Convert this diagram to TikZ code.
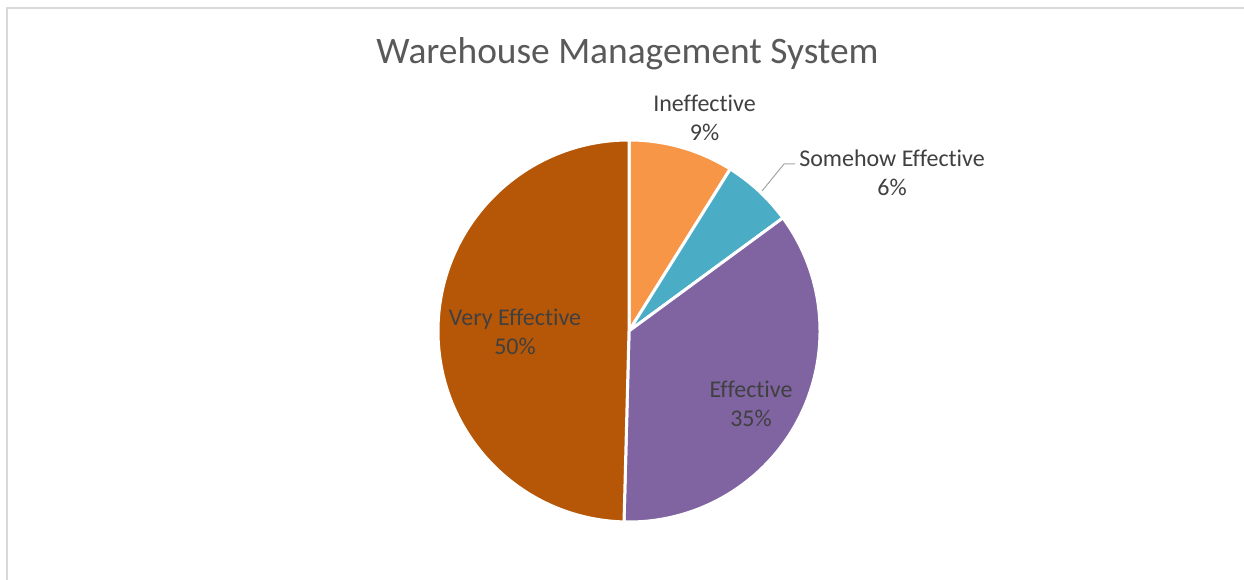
\documentclass[tikz,border=0pt]{standalone}
\usepackage{fontspec}
\setmainfont{Carlito}[Ligatures={NoCommon}]
\definecolor{cIneff}{HTML}{F79646}
\definecolor{cSome}{HTML}{4BACC6}
\definecolor{cEff}{HTML}{8064A2}
\definecolor{cVery}{HTML}{B65708}
\definecolor{lbltext}{HTML}{404040}
\definecolor{titletext}{HTML}{595959}
\definecolor{framecol}{HTML}{D9D9D9}
\definecolor{leadcol}{HTML}{A6A6A6}
\begin{document}
\begin{tikzpicture}[x=1pt,y=1pt,
  slice/.style={draw=white,line width=3pt,line join=round},
  lbl/.style={text=lbltext,font=\fontsize{24}{29}\selectfont,align=center,anchor=base,inner sep=0pt},
  titlestyle/.style={text=titletext,font=\fontsize{37.4}{44}\selectfont,anchor=base,inner sep=0pt},
  framestyle/.style={draw=framecol,line width=1.5pt},
  leader/.style={draw=leadcol,line width=1pt}]
\useasboundingbox (0,0) rectangle (1244,580);
\fill[white] (0,0) rectangle (1244,580);
\draw[framestyle] (7,0) -- (7,572) -- (1244,572);
\coordinate (c) at (629,249);
\def\R{191}
\path[slice,fill=cIneff] (c) -- ++(90:\R) arc[start angle=90,end angle=58,radius=\R] -- cycle;
\path[slice,fill=cSome] (c) -- ++(58:\R) arc[start angle=58,end angle=36.3,radius=\R] -- cycle;
\path[slice,fill=cEff] (c) -- ++(36.3:\R) arc[start angle=36.3,end angle=-91.5,radius=\R] -- cycle;
\path[slice,fill=cVery] (c) -- ++(268.5:\R) arc[start angle=268.5,end angle=90,radius=\R] -- cycle;
\node[titlestyle] (title) at (627.5,516.7) {Warehouse Management System};
\node[lbl] (ineff) at (704.5,439.3) {Ineffective\\9\%};
\node[lbl] (some) at (892,384.3) {Somehow Effective\\6\%};
\node[lbl] (very) at (515,225) {Very Effective\\50\%};
\node[lbl] (eff) at (751,153.7) {Effective\\35\%};
\coordinate (lead) at (762,389);
\coordinate (knee) at (784,416);
\draw[leader] (lead) -- (knee) -- ([xshift=-4pt]some.west |- knee);
\end{tikzpicture}
\end{document}
